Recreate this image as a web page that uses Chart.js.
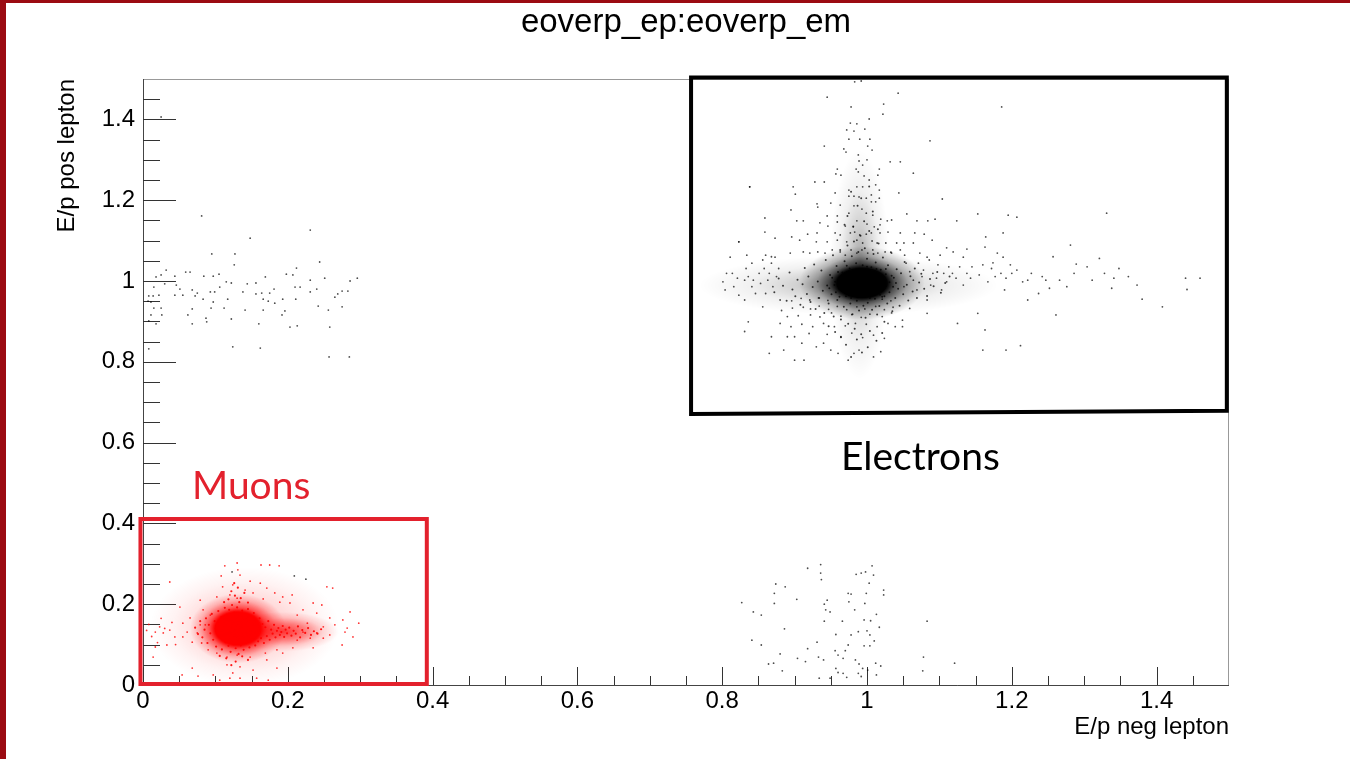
<!DOCTYPE html>
<html>
<head>
<meta charset="utf-8">
<title>eoverp_ep:eoverp_em</title>
<script src="https://cdn.jsdelivr.net/npm/chart.js@4.4.1/dist/chart.umd.min.js"></script>
<style>
  html, body { margin: 0; padding: 0; background: #fff; }
  #wrap { position: relative; width: 1350px; height: 759px; overflow: hidden; }
  #barTop { position: absolute; left: 0; top: 0; width: 1350px; height: 3px; background: #9b0b12; }
  #barLeft { position: absolute; left: 0; top: 0; width: 6px; height: 759px; background: #9b0b12; }
</style>
</head>
<body>
<div id="wrap">
  <canvas id="plot" width="1350" height="759"></canvas>
  <div id="barTop"></div>
  <div id="barLeft"></div>
</div>
<script>
// texts
const chartTitle = 'eoverp_ep:eoverp_em';
const xTitle = 'E/p neg lepton';
const yTitle = 'E/p pos lepton';

// axis ticks
const xMajorTicks = [0, 0.2, 0.4, 0.6, 0.8, 1, 1.2, 1.4];
const yMajorTicks = [0, 0.2, 0.4, 0.6, 0.8, 1, 1.2, 1.4];
const minorTicks = [0.05, 0.1, 0.15, 0.25, 0.3, 0.35, 0.45, 0.5, 0.55, 0.65, 0.7, 0.75,
  0.85, 0.9, 0.95, 1.05, 1.1, 1.15, 1.25, 1.3, 1.35, 1.45];

// electrons (x = E/p neg, y = E/p pos)
// the densest spots are drawn as soft blobs, the rest as single dots
const electronCore = [[0.993, 0.995]];
const electronHorizontal = [[0.975, 0.99]];
const electronVertical = [[0.99, 1.04]];
const electronDense = [
  [0.872,0.972],[0.878,1.006],[0.884,0.988],[0.889,0.951],[0.893,1.021],[0.897,0.979],[0.901,0.962],[0.904,1.003],
  [0.908,0.941],[0.911,0.992],[0.914,1.032],[0.917,0.968],[0.919,1.011],[0.922,0.948],[0.925,0.985],[0.927,1.041],
  [0.929,0.931],[0.932,0.999],[0.934,0.958],[0.937,1.026],[0.939,0.976],[0.941,0.921],[0.943,1.052],[0.945,0.989],
  [0.947,0.944],[0.949,1.015],[0.951,0.967],[0.953,1.064],[0.954,0.912],[0.956,0.998],[0.958,1.037],[0.959,0.953],
  [0.961,0.981],[0.963,1.077],[0.964,0.905],[0.966,1.021],[0.968,0.936],[0.969,1.049],[0.971,0.962],[0.973,1.088],
  [0.974,0.894],[0.976,1.031],[0.977,0.944],[0.979,1.061],[0.980,0.918],[0.982,1.098],[0.983,0.882],[0.985,1.044],
  [0.986,0.951],[0.988,1.072],[0.989,0.927],[0.991,1.112],[0.992,0.868],[0.994,1.039],[0.995,0.939],[0.997,1.081],
  [0.998,0.909],[1.000,1.055],[1.001,0.946],[1.003,1.124],[1.004,0.876],[1.006,1.034],[1.007,0.929],[1.009,1.067],
  [1.011,0.956],[1.012,1.046],[1.014,0.917],[1.016,1.093],[1.017,0.938],[1.019,1.028],[1.021,0.961],[1.022,1.058],
  [1.024,0.899],[1.026,1.017],[1.028,0.944],[1.029,1.039],[1.031,0.972],[1.033,1.071],[1.035,0.925],[1.037,1.008],
  [1.039,0.958],[1.041,1.029],[1.043,0.981],[1.045,0.939],[1.047,1.019],[1.050,0.967],[1.052,1.047],[1.055,0.991],
  [1.057,0.952],[1.060,1.012],[1.063,0.974],[1.066,1.031],[1.069,0.958],[1.072,0.996],[1.075,1.018],[1.079,0.981],
  [1.083,0.963],[1.087,1.005],[1.092,0.987],[1.097,1.022],[1.102,0.971],[1.108,0.995],[1.114,1.011],
  [0.981,1.135],[0.996,1.148],[0.973,1.161],[1.008,1.172],[0.987,1.186],[0.969,1.139],[1.015,1.128],[0.992,1.205],
  [0.978,1.221],[1.003,1.234],[0.986,0.855],[0.971,0.842],[1.001,0.836],[0.964,0.861],[1.013,0.852],[0.993,0.823],
  [0.978,0.812],[0.956,0.874],[1.021,0.871],[0.947,0.888],
  [0.948,0.982],[0.952,1.008],[0.957,0.972],[0.960,1.022],[0.962,0.961],[1.031,0.997],[1.034,1.013],[1.036,0.986],
  [1.026,1.030],[1.024,0.962],[0.972,1.038],[0.985,1.028],[1.000,1.035],[1.013,1.030],[0.978,0.958],[0.990,0.962],
  [1.004,0.958],[1.018,0.966],[0.955,0.990],[1.040,0.995]
];
const electronPlume = [
  [0.983,1.493],[0.992,1.495],[0.945,1.455],[1.043,1.465],[1.023,1.438],[0.978,1.431],[1.022,1.413],[1.186,1.431],
  [1.003,1.401],[0.977,1.391],[0.986,1.389],[0.997,1.376],[0.972,1.374],[0.982,1.371],[0.975,1.351],[0.990,1.351],
  [1.004,1.351],[1.087,1.347],[0.941,1.334],[1.001,1.334],[0.968,1.327],[1.007,1.324],[0.971,1.319],[0.988,1.312],
  [1.032,1.295],[1.046,1.295],[0.989,1.297],[1.000,1.300],[0.959,1.277],[0.994,1.287],[1.017,1.277],[0.985,1.277],
  [0.988,1.270],[0.957,1.265],[0.964,1.262],[1.064,1.267],[0.996,1.260],[1.015,1.262],[1.003,1.250],[0.928,1.245],
  [0.941,1.245],[0.838,1.233],[0.898,1.233],[0.986,1.233],[0.994,1.233],[1.012,1.238],[0.975,1.225],[1.017,1.225],
  [1.044,1.218],[0.956,1.218],[0.901,1.215],[0.982,1.210],[0.989,1.208],[0.975,1.210],[0.999,1.205],[1.006,1.213],
  [1.017,1.205],[1.104,1.203],[0.950,1.193],[0.963,1.188],[1.006,1.196],[1.012,1.196],[0.931,1.191],[0.895,1.176],
  [0.932,1.183],[0.982,1.186],[0.993,1.178],[0.975,1.168],[0.999,1.168],[1.008,1.163],[0.945,1.161],[0.959,1.161],
  [1.055,1.166],[1.153,1.166],[1.195,1.163],[1.207,1.158],[0.859,1.156],[0.903,1.149],[0.912,1.149],[0.986,1.149],
  [0.959,1.146],[1.019,1.153],[1.028,1.149],[1.034,1.151],[1.069,1.149],[1.084,1.149],[1.094,1.153],[1.124,1.149],
  [0.935,1.144],[0.946,1.136],[0.970,1.136],[0.981,1.134],[1.000,1.141],[1.010,1.134],[1.018,1.139],[0.859,1.121],
  [0.873,1.106],[0.823,1.097],[0.918,1.116],[0.931,1.119],[0.956,1.119],[0.963,1.114],[0.977,1.119],[0.983,1.121],
  [0.990,1.114],[0.999,1.116],[1.006,1.119],[1.018,1.119],[1.029,1.121],[1.046,1.119],[1.066,1.119],[1.079,1.116],
  [1.090,1.101],[1.164,1.109],[1.188,1.119],[0.896,1.109],[0.907,1.101],[0.930,1.097],[0.945,1.097],[0.959,1.101],
  [0.972,1.097],[0.986,1.101],[0.994,1.094],[1.007,1.099],[1.014,1.094],[1.026,1.094],[1.041,1.094],[1.051,1.094],
  [1.064,1.094],[1.110,1.082],[1.138,1.079],[1.163,1.084],[1.180,1.069],[0.811,1.059],[0.834,1.064],[0.856,1.052],
  [0.873,1.059],[0.894,1.069],[0.912,1.072],[0.921,1.069],[0.932,1.072],[0.942,1.069],[0.952,1.077],[0.963,1.072],
  [0.970,1.064],[0.978,1.077],[0.986,1.069],[0.993,1.077],[1.001,1.069],[1.008,1.077],[1.015,1.069],[1.025,1.072],
  [1.034,1.069],[1.046,1.077],[1.052,1.064],[1.073,1.069],[1.083,1.059],[1.101,1.064],[1.119,1.072],[1.133,1.059],
  [1.160,1.040],[1.174,1.045],[1.188,1.059],[1.198,1.040]
];
const electronRightWing = [
  [1.460,1.007],[1.440,1.007],[1.442,0.979],[1.408,0.936],[1.380,0.955],[1.373,0.990],[1.361,1.011],[1.348,1.031],
  [1.341,1.007],[1.338,0.982],[1.321,1.056],[1.331,1.168],[1.328,1.019],[1.311,1.002],[1.304,1.035],[1.289,1.042],
  [1.286,1.019],[1.276,0.986],[1.281,1.089],[1.266,1.002],[1.261,0.916],[1.257,1.060],[1.252,0.982],[1.247,1.002],
  [1.242,1.011],[1.237,0.969],[1.227,1.019],[1.222,1.002],[1.215,0.998],[1.222,0.953],[1.212,0.840],[1.207,1.027],
  [1.200,1.019],[1.192,1.007],[1.190,0.978],[1.185,1.019],[1.177,1.011],[1.172,1.031],[1.167,0.998],[1.163,0.879],
  [1.160,0.829],[1.192,0.829],[1.155,1.015],[1.153,0.920],[1.145,1.035],[1.143,1.007],[1.138,1.019],[1.133,0.990],
  [1.125,0.895],[1.128,1.035],[1.123,1.007],[1.118,1.019],[1.113,1.035],[1.110,0.998],[1.106,1.019],[1.103,0.978],
  [1.098,1.040],[1.096,1.007],[1.091,1.019],[1.086,1.052],[1.088,0.990],[1.083,0.953],[1.083,0.920],[1.078,1.027],
  [1.076,1.011],[1.071,1.044],[1.069,0.978],[1.064,1.002],[1.059,1.023],[1.059,0.932],[1.054,1.044],[1.051,0.986],
  [1.049,0.887]
];
const electronLeftWing = [
  [0.804,0.978],[0.801,0.998],[0.806,1.019],[0.814,1.019],[0.816,0.986],[0.821,1.007],[0.823,0.965],[0.831,1.002],
  [0.831,0.953],[0.833,1.031],[0.836,1.011],[0.841,0.986],[0.841,1.044],[0.843,1.002],[0.846,0.969],[0.851,1.019],
  [0.853,0.994],[0.858,1.031],[0.860,0.969],[0.863,1.002],[0.865,1.019],[0.868,1.044],[0.870,0.986],[0.875,1.011],
  [0.878,1.031],[0.880,0.953],[0.823,1.097],[0.838,1.233],[0.831,0.875],[0.836,0.899],[0.860,1.064],[0.868,1.060],
  [0.856,0.936],[0.868,0.862],[0.890,0.862],[0.900,0.804],[0.913,0.804],[0.865,0.821],[0.885,0.829]
];
const electronLower = [
  [0.974,0.804],[0.982,0.821],[0.989,0.829],[1.009,0.812],[1.019,0.825],[0.950,0.829],[0.960,0.821],[0.930,0.837],
  [0.940,0.846],[0.910,0.846],[0.900,0.862],[0.920,0.870],[0.945,0.868],[0.964,0.862],[0.979,0.871],[0.994,0.860],
  [1.009,0.866],[1.024,0.858],[1.039,0.887],[1.049,0.903],[1.029,0.895],[1.014,0.887],[0.999,0.893],[0.984,0.895],
  [0.970,0.889],[0.955,0.887],[0.940,0.895],[0.925,0.887],[0.910,0.893],[0.895,0.887],[0.880,0.895],[0.890,0.912],
  [0.905,0.914],[0.922,0.916],[0.935,0.911],[0.951,0.921],[0.964,0.913],[0.979,0.917],[0.992,0.910],[1.004,0.918],
  [1.021,0.912],[1.034,0.921],[0.882,0.927],[0.897,0.933],[0.912,0.935],[0.922,0.931],[0.934,0.938],[0.947,0.930],
  [0.959,0.937],[0.972,0.929],[0.986,0.936],[0.997,0.931],[1.012,0.937],[1.024,0.929],[1.036,0.935],[0.896,0.951],
  [0.909,0.957],[0.921,0.953],[0.933,0.958],[0.946,0.952],[1.021,0.955],[1.033,0.951]
];

// electron-like E/p on one side only
const lowNegBand = [
  [0.148,1.106],[0.095,1.067],[0.127,1.067],[0.126,1.040],[0.032,1.027],[0.244,1.047],[0.212,1.032],[0.198,1.017],
  [0.207,1.015],[0.231,1.002],[0.251,1.007],[0.286,1.000],[0.296,1.007],[0.018,1.010],[0.025,1.015],[0.044,1.012],
  [0.059,1.022],[0.065,1.022],[0.084,1.012],[0.097,1.012],[0.105,1.017],[0.169,1.010],[0.115,0.998],[0.122,0.995],
  [0.144,0.993],[0.156,0.995],[0.030,0.993],[0.015,0.985],[0.046,0.990],[0.051,0.980],[0.068,0.978],[0.093,0.973],
  [0.099,0.973],[0.106,0.985],[0.138,0.973],[0.156,0.968],[0.164,0.970],[0.175,0.970],[0.181,0.980],[0.210,0.985],
  [0.217,0.985],[0.231,0.973],[0.240,0.980],[0.275,0.975],[0.283,0.975],[0.008,0.963],[0.014,0.963],[0.022,0.965],
  [0.044,0.965],[0.055,0.965],[0.075,0.970],[0.072,0.963],[0.083,0.955],[0.097,0.948],[0.117,0.955],[0.166,0.955],
  [0.173,0.950],[0.193,0.955],[0.211,0.955],[0.265,0.960],[0.269,0.968],[0.007,0.950],[0.011,0.948],[0.182,0.945],
  [0.015,0.933],[0.025,0.933],[0.068,0.931],[0.094,0.933],[0.112,0.933],[0.141,0.928],[0.166,0.928],[0.196,0.926],
  [0.242,0.938],[0.256,0.928],[0.275,0.936],[0.011,0.916],[0.026,0.916],[0.062,0.916],[0.192,0.916],[0.087,0.908],
  [0.122,0.906],[0.008,0.901],[0.018,0.894],[0.068,0.894],[0.088,0.899],[0.160,0.894],[0.203,0.886],[0.213,0.889],
  [0.258,0.886],[0.008,0.832],[0.162,0.834],[0.257,0.812],[0.025,1.406],[0.081,1.161],[0.231,1.126],[0.285,0.812],
  [0.124,0.837]
];
const lowPosBand = [
  [0.918,0.289],[0.936,0.298],[0.936,0.277],[0.937,0.261],[0.874,0.250],[0.887,0.243],[0.872,0.227],[0.872,0.202],
  [0.827,0.204],[0.903,0.212],[0.843,0.181],[0.854,0.173],[0.886,0.139],[0.841,0.111],[0.854,0.099],[0.864,0.052],
  [0.871,0.054],[0.883,0.035],[0.880,0.077],[0.904,0.066],[0.915,0.058],[0.918,0.090],[0.931,0.106],[0.933,0.069],
  [0.940,0.062],[0.945,0.210],[0.941,0.200],[0.943,0.186],[0.949,0.181],[0.941,0.158],[0.966,0.158],[0.957,0.125],
  [0.956,0.085],[0.960,0.074],[0.967,0.066],[0.957,0.041],[0.960,0.031],[0.949,0.017],[0.934,0.017],[0.974,0.227],
  [0.978,0.225],[0.975,0.206],[0.983,0.186],[0.985,0.274],[0.992,0.277],[0.998,0.280],[1.007,0.295],[1.009,0.272],
  [1.003,0.252],[0.999,0.227],[0.997,0.202],[1.013,0.175],[0.996,0.161],[1.005,0.159],[1.017,0.143],[1.000,0.134],
  [0.988,0.132],[0.978,0.124],[1.004,0.124],[1.010,0.109],[0.996,0.097],[1.004,0.097],[0.974,0.099],[0.970,0.085],
  [0.984,0.062],[0.989,0.052],[0.994,0.041],[0.988,0.029],[1.001,0.037],[1.012,0.054],[1.019,0.047],[1.013,0.025],
  [1.023,0.235],[1.023,0.223],[1.083,0.158],[1.078,0.069],[1.077,0.035],[1.121,0.054],[0.967,0.029],[0.972,0.019],
  [0.992,0.021],[0.209,0.270],[0.225,0.262],[0.123,0.280]
];

// muons
const muonCore = [[0.131, 0.140]];
const muonTail = [[0.195, 0.132]];
const muonSpread = [[0.14, 0.145]];
const muonDense = [
  [0.072,0.142],[0.076,0.126],[0.079,0.158],[0.082,0.118],[0.085,0.137],[0.087,0.165],[0.089,0.104],[0.091,0.149],
  [0.093,0.128],[0.095,0.176],[0.097,0.112],[0.099,0.158],[0.101,0.095],[0.103,0.139],[0.104,0.183],[0.106,0.121],
  [0.108,0.168],[0.109,0.088],[0.111,0.152],[0.113,0.191],[0.114,0.106],[0.116,0.174],[0.118,0.097],[0.119,0.186],
  [0.121,0.082],[0.123,0.198],[0.125,0.101],[0.126,0.179],[0.128,0.091],[0.130,0.192],[0.132,0.077],[0.133,0.205],
  [0.135,0.098],[0.137,0.184],[0.139,0.087],[0.141,0.174],[0.143,0.105],[0.145,0.188],[0.147,0.093],[0.149,0.167],
  [0.151,0.111],[0.153,0.178],[0.155,0.098],[0.157,0.158],[0.159,0.108],[0.161,0.165],[0.163,0.116],[0.165,0.151],
  [0.167,0.104],[0.169,0.143],[0.171,0.121],[0.173,0.158],[0.175,0.112],[0.177,0.137],[0.179,0.127],[0.181,0.149],
  [0.183,0.118],[0.185,0.134],[0.187,0.141],[0.189,0.124],[0.191,0.131],[0.193,0.146],[0.195,0.119],[0.197,0.137],
  [0.199,0.128],[0.202,0.142],[0.205,0.122],[0.208,0.134],[0.211,0.127],[0.214,0.145],[0.217,0.118],[0.220,0.136],
  [0.224,0.129],[0.228,0.141],[0.232,0.124],[0.236,0.133],[0.241,0.127],[0.246,0.138],
  [0.118,0.212],[0.127,0.221],[0.135,0.215],[0.122,0.232],[0.131,0.241],[0.140,0.228],[0.126,0.252],[0.112,0.205],
  [0.145,0.204],[0.115,0.066],[0.128,0.058],[0.137,0.071],[0.122,0.049],[0.106,0.072],[0.145,0.062]
];
const muonHalo = [
  [0.130,0.302],[0.113,0.295],[0.163,0.297],[0.175,0.297],[0.188,0.295],[0.131,0.285],[0.134,0.272],[0.108,0.270],
  [0.037,0.255],[0.148,0.257],[0.124,0.248],[0.162,0.252],[0.110,0.243],[0.141,0.235],[0.171,0.240],[0.254,0.243],
  [0.262,0.240],[0.152,0.228],[0.182,0.228],[0.120,0.223],[0.102,0.218],[0.193,0.218],[0.206,0.223],[0.130,0.215],
  [0.166,0.213],[0.189,0.205],[0.203,0.203],[0.235,0.203],[0.247,0.198],[0.286,0.181],[0.298,0.153],[0.079,0.210],
  [0.051,0.193],[0.083,0.186],[0.221,0.186],[0.240,0.178],[0.065,0.166],[0.093,0.173],[0.213,0.173],[0.258,0.166],
  [0.276,0.161],[0.055,0.153],[0.079,0.149],[0.227,0.153],[0.249,0.144],[0.265,0.149],[0.282,0.141],[0.290,0.119],
  [0.279,0.131],[0.258,0.124],[0.240,0.129],[0.221,0.131],[0.213,0.111],[0.231,0.116],[0.249,0.116],[0.275,0.099],
  [0.235,0.092],[0.207,0.092],[0.023,0.144],[0.017,0.131],[0.028,0.129],[0.037,0.136],[0.044,0.119],[0.017,0.094],
  [0.033,0.099],[0.055,0.119],[0.068,0.106],[0.061,0.131],[0.075,0.129],[0.081,0.104],[0.086,0.149],[0.014,0.069],
  [0.090,0.087],[0.102,0.079],[0.116,0.069],[0.130,0.074],[0.148,0.069],[0.169,0.079],[0.185,0.087],[0.193,0.079],
  [0.171,0.062],[0.116,0.050],[0.134,0.045],[0.152,0.037],[0.124,0.030],[0.097,0.025],[0.185,0.042],[0.068,0.042],
  [0.076,0.022],[0.120,0.017],[0.134,0.017],[0.054,0.025],[0.157,0.017],[0.106,0.012],[0.173,0.012],
  [0.008,0.150],[0.012,0.120],[0.020,0.105],[0.030,0.140],[0.040,0.155],[0.045,0.100],[0.005,0.135],[0.025,0.165]
];

// annotation boxes and labels, in data units
const electronBox = [[0.757, 1.504], [1.497, 1.504], [1.497, 0.679], [0.757, 0.671]];
const muonBox = [[-0.0035, 0.411], [0.392, 0.411], [0.392, 0.0025], [-0.0035, 0.0025]];
const muonLabel = { text: 'Muons', x: 0.0677, y: 0.460 };
const electronLabel = { text: 'Electrons', x: 0.964, y: 0.532 };

const RED = '#e3212d';
const toPts = arr => arr.map(p => ({ x: p[0], y: p[1] }));

// soft elliptical marker used as a point style
function blob(w, h, rgb, stops) {
  const c = document.createElement('canvas');
  c.width = w;
  c.height = h;
  const g = c.getContext('2d');
  g.translate(w / 2, h / 2);
  g.scale(w / 2, h / 2);
  const grad = g.createRadialGradient(0, 0, 0, 0, 0, 1);
  stops.forEach(s => grad.addColorStop(s[0], `rgba(${rgb},${s[1]})`));
  g.fillStyle = grad;
  g.beginPath();
  g.arc(0, 0, 1, 0, Math.PI * 2);
  g.fill();
  return c;
}

function layer(points, color, radius) {
  return {
    data: toPts(points),
    pointRadius: radius,
    pointBorderWidth: 0,
    pointBackgroundColor: color,
    showLine: false,
  };
}

function blobLayer(points, sprite) {
  return {
    data: toPts(points),
    pointRadius: 2,
    pointStyle: sprite,
    showLine: false,
  };
}

const rootFrame = {
  id: 'rootFrame',
  beforeDatasetsDraw(chart) {
    const { ctx, chartArea: a, scales: { x, y } } = chart;
    ctx.save();
    ctx.lineWidth = 1;
    ctx.strokeStyle = '#999';
    ctx.strokeRect(a.left + 0.5, a.top + 0.5, a.right - a.left - 1, a.bottom - a.top);
    ctx.strokeStyle = '#444';
    ctx.beginPath();
    ctx.moveTo(a.left + 0.5, a.top);
    ctx.lineTo(a.left + 0.5, a.bottom + 0.5);
    ctx.lineTo(a.right, a.bottom + 0.5);
    ctx.stroke();

    ctx.strokeStyle = '#333';
    ctx.beginPath();
    const tick = (v, major) => {
      const px = Math.round(x.getPixelForValue(v)) + 0.5;
      ctx.moveTo(px, a.bottom);
      ctx.lineTo(px, a.bottom - (major ? 18 : 9));
      const py = Math.round(y.getPixelForValue(v)) + 0.5;
      ctx.moveTo(a.left, py);
      ctx.lineTo(a.left + (major ? 33 : 17), py);
    };
    xMajorTicks.forEach(v => tick(v, true));
    minorTicks.forEach(v => tick(v, false));
    ctx.stroke();
    ctx.restore();
  },
  afterDatasetsDraw(chart) {
    const { ctx, scales: { x, y } } = chart;
    const box = (corners, color) => {
      ctx.beginPath();
      corners.forEach((c, i) => {
        const px = x.getPixelForValue(c[0]);
        const py = y.getPixelForValue(c[1]);
        if (i === 0) ctx.moveTo(px, py); else ctx.lineTo(px, py);
      });
      ctx.closePath();
      ctx.strokeStyle = color;
      ctx.lineWidth = 4;
      ctx.lineJoin = 'miter';
      ctx.stroke();
    };
    const label = (l, color) => {
      ctx.fillStyle = color;
      ctx.font = '39px Lato';
      ctx.textAlign = 'left';
      ctx.textBaseline = 'alphabetic';
      ctx.fillText(l.text, x.getPixelForValue(l.x), y.getPixelForValue(l.y));
    };
    ctx.save();
    box(electronBox, '#000');
    box(muonBox, RED);
    label(electronLabel, '#000');
    label(muonLabel, RED);
    ctx.restore();
  }
};

const axisFont = { family: 'Liberation Sans', size: 24, weight: 'normal' };

const eCoreSprite = blob(126, 74, '0,0,0', [[0, 1], [0.4, 1], [0.52, 0.62], [0.72, 0.26], [1, 0]]);
const eHorizSprite = blob(300, 60, '0,0,0', [[0, 0.4], [0.35, 0.18], [0.65, 0.06], [1, 0]]);
const eVertSprite = blob(60, 230, '0,0,0', [[0, 0.38], [0.35, 0.18], [0.65, 0.06], [1, 0]]);
const mCoreSprite = blob(96, 70, '255,0,0', [[0, 1], [0.48, 1], [0.6, 0.6], [0.8, 0.22], [1, 0]]);
const mTailSprite = blob(110, 40, '255,0,0', [[0, 0.75], [0.4, 0.45], [0.7, 0.15], [1, 0]]);
const mSpreadSprite = blob(190, 120, '255,0,0', [[0, 0.35], [0.45, 0.15], [0.75, 0.05], [1, 0]]);

new Chart(document.getElementById('plot'), {
  type: 'scatter',
  data: {
    datasets: [
      blobLayer(electronHorizontal, eHorizSprite),
      blobLayer(electronVertical, eVertSprite),
      blobLayer(muonSpread, mSpreadSprite),
      layer(lowNegBand, 'rgba(0,0,0,0.7)', 0.9),
      layer(lowPosBand, 'rgba(0,0,0,0.7)', 0.9),
      layer(electronPlume, 'rgba(0,0,0,0.7)', 0.9),
      layer(electronRightWing, 'rgba(0,0,0,0.7)', 0.9),
      layer(electronLeftWing, 'rgba(0,0,0,0.7)', 0.9),
      layer(electronLower, 'rgba(0,0,0,0.7)', 0.9),
      layer(electronDense, 'rgba(0,0,0,0.75)', 1.0),
      blobLayer(electronCore, eCoreSprite),
      layer(muonHalo, 'rgba(255,0,0,0.8)', 0.9),
      layer(muonDense, 'rgba(255,0,0,0.9)', 1.1),
      blobLayer(muonTail, mTailSprite),
      blobLayer(muonCore, mCoreSprite),
    ]
  },
  options: {
    responsive: false,
    animation: false,
    devicePixelRatio: 1,
    layout: { padding: { top: 0, right: 121, bottom: 0, left: 0 } },
    plugins: {
      legend: { display: false },
      tooltip: { enabled: false },
      title: {
        display: true,
        text: chartTitle,
        fullSize: false,
        color: '#000',
        font: { family: 'Liberation Sans', size: 33, weight: 'normal' },
        padding: { top: 3, bottom: 36.4 }
      }
    },
    scales: {
      x: {
        type: 'linear',
        min: 0,
        max: 1.5,
        afterBuildTicks: s => { s.ticks = xMajorTicks.map(v => ({ value: v })); },
        afterFit: s => { s.height = 74; },
        grid: { display: false, drawTicks: false },
        border: { display: false },
        ticks: { padding: 2, color: '#000', font: axisFont, maxRotation: 0, autoSkip: false,
          callback: v => String(Math.round(v * 10) / 10) },
        title: { display: true, text: xTitle, align: 'end', color: '#000', font: axisFont,
          padding: { top: 0, bottom: 17.6 } }
      },
      y: {
        type: 'linear',
        min: 0,
        max: 1.5,
        afterBuildTicks: s => { s.ticks = yMajorTicks.map(v => ({ value: v })); },
        afterFit: s => { s.width = 143; },
        grid: { display: false, drawTicks: false },
        border: { display: false },
        ticks: { padding: 8, color: '#000', font: axisFont, autoSkip: false,
          callback: v => String(Math.round(v * 10) / 10) },
        title: { display: true, text: yTitle, align: 'end', color: '#000', font: axisFont,
          padding: { top: 52.6, bottom: 0 } }
      }
    }
  },
  plugins: [rootFrame]
});
</script>
</body>
</html>
